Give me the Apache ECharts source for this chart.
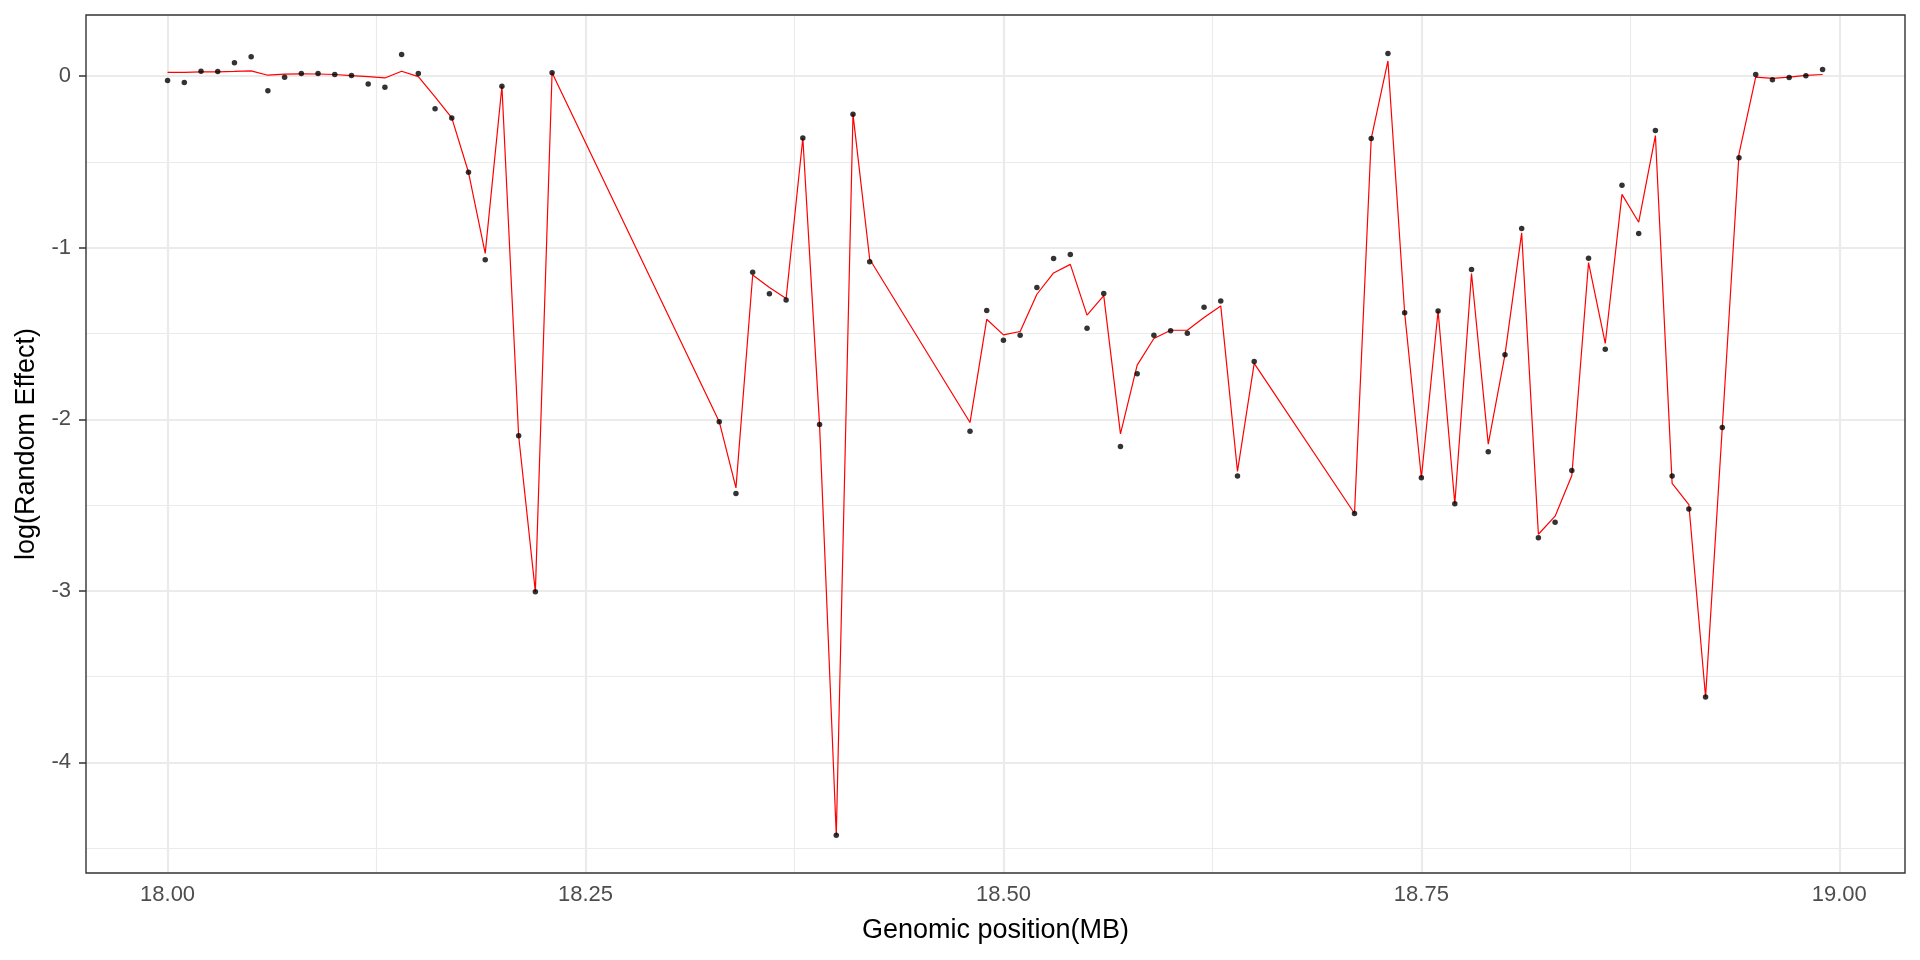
<!DOCTYPE html>
<html>
<head>
<meta charset="utf-8">
<script src="https://cdn.jsdelivr.net/npm/echarts@6/dist/echarts.min.js"></script>
<style>
html,body{margin:0;padding:0;background:#fff;}
#chart{width:1920px;height:960px;}
</style>
</head>
<body>
<div id="chart"></div>
<script>
// Genomic positions (MB)
const positions = [
  18.00,18.01,18.02,18.03,18.04,18.05,18.06,18.07,18.08,18.09,
  18.10,18.11,18.12,18.13,18.14,18.15,18.16,18.17,18.18,18.19,
  18.20,18.21,18.22,18.23,
  18.33,18.34,18.35,18.36,18.37,18.38,18.39,18.40,18.41,18.42,
  18.48,18.49,18.50,18.51,18.52,18.53,18.54,18.55,18.56,18.57,
  18.58,18.59,18.60,18.61,18.62,18.63,18.64,18.65,
  18.71,18.72,18.73,18.74,18.75,18.76,18.77,18.78,18.79,18.80,
  18.81,18.82,18.83,18.84,18.85,18.86,18.87,18.88,18.89,18.90,
  18.91,18.92,18.93,18.94,18.95,18.96,18.97,18.98,18.99
];
// observed log(random effect) – black points
const observed = [
  -0.025,-0.037,0.029,0.027,0.078,0.113,-0.084,-0.006,0.016,0.016,
  0.010,0.004,-0.045,-0.064,0.126,0.016,-0.189,-0.243,-0.560,-1.070,
  -0.058,-2.096,-3.006,0.020,
  -2.014,-2.433,-1.142,-1.268,-1.304,-0.360,-2.031,-4.425,-0.221,-1.081,
  -2.070,-1.366,-1.539,-1.510,-1.231,-1.062,-1.039,-1.469,-1.266,-2.159,
  -1.734,-1.510,-1.484,-1.498,-1.347,-1.310,-2.331,-1.663,
  -2.549,-0.363,0.132,-1.379,-2.341,-1.369,-2.492,-1.127,-2.189,-1.624,
  -0.888,-2.690,-2.600,-2.298,-1.061,-1.591,-0.636,-0.917,-0.316,-2.331,
  -2.523,-3.619,-2.048,-0.475,0.010,-0.020,-0.008,0.003,0.040
];
// fitted values – red line
const fitted = [
  0.023,0.023,0.025,0.026,0.028,0.031,0.006,0.012,0.014,0.013,
  0.010,0.004,-0.002,-0.010,0.029,-0.002,-0.120,-0.243,-0.560,-1.033,
  -0.058,-2.096,-3.006,0.020,
  -2.014,-2.400,-1.159,-1.232,-1.296,-0.360,-2.031,-4.425,-0.221,-1.067,
  -2.019,-1.417,-1.508,-1.488,-1.271,-1.147,-1.097,-1.393,-1.279,-2.085,
  -1.684,-1.529,-1.481,-1.481,-1.407,-1.339,-2.304,-1.674,
  -2.549,-0.363,0.089,-1.379,-2.341,-1.369,-2.492,-1.150,-2.145,-1.624,
  -0.913,-2.670,-2.565,-2.328,-1.086,-1.558,-0.689,-0.851,-0.346,-2.374,
  -2.497,-3.619,-2.048,-0.452,-0.005,-0.013,-0.005,0.005,0.010
];
const xTicks = [18.00,18.25,18.50,18.75,19.00];
const xMinor = [18.125,18.375,18.625,18.875];
const yTicks = [-4,-3,-2,-1,0];
const yMinor = [-4.5,-3.5,-2.5,-1.5,-0.5];

const chart = echarts.init(document.getElementById('chart'), null, {renderer:'canvas'});
const font = 'Liberation Sans, Arial, Helvetica, sans-serif';
const gridLines = [];
xMinor.forEach(v=>gridLines.push({xAxis:v, lineStyle:{color:'#EBEBEB',width:1.1,type:'solid'}}));
yMinor.forEach(v=>gridLines.push({yAxis:v, lineStyle:{color:'#EBEBEB',width:1.1,type:'solid'}}));
xTicks.forEach(v=>gridLines.push({xAxis:v, lineStyle:{color:'#EBEBEB',width:2.2,type:'solid'}}));
yTicks.forEach(v=>gridLines.push({yAxis:v, lineStyle:{color:'#EBEBEB',width:2.2,type:'solid'}}));

chart.setOption({
  animation:false,
  backgroundColor:'#ffffff',
  grid:{left:86,right:15,top:15,bottom:87,show:true,borderColor:'#333333',borderWidth:1.4,backgroundColor:'transparent',z:10},
  xAxis:{
    type:'value', min:17.9512, max:19.0393,
    name:'Genomic position(MB)', nameLocation:'middle', nameGap:44,
    nameTextStyle:{fontFamily:font,fontSize:27,color:'#000000'},
    axisLine:{show:false},
    axisTick:{show:true,customValues:xTicks,length:7,lineStyle:{color:'#333333',width:1.5}},
    axisLabel:{customValues:xTicks,margin:11,fontFamily:font,fontSize:22,color:'#4D4D4D',formatter:v=>v.toFixed(2)},
    splitLine:{show:false}
  },
  yAxis:{
    type:'value', min:-4.645, max:0.357,
    name:'log(Random Effect)', nameLocation:'middle', nameGap:46,
    nameTextStyle:{fontFamily:font,fontSize:27,color:'#000000'},
    axisLine:{show:false},
    axisTick:{show:true,customValues:yTicks,length:7,lineStyle:{color:'#333333',width:1.5}},
    axisLabel:{customValues:yTicks,margin:15,fontFamily:font,fontSize:22,color:'#4D4D4D',formatter:v=>String(v)},
    splitLine:{show:false}
  },
  series:[
    {type:'line',data:[],z:1,silent:true,
     markLine:{silent:true,z:1,precision:6,symbol:['none','none'],label:{show:false},animation:false,data:gridLines}},
    {type:'line',data:positions.map((x,i)=>[x,fitted[i]]),z:3,showSymbol:false,symbol:'none',
     lineStyle:{color:'#FF0000',width:1.2},silent:true},
    {type:'scatter',data:positions.map((x,i)=>[x,observed[i]]),z:4,symbol:'circle',symbolSize:5.5,
     itemStyle:{color:'#000000'},silent:true}
  ]
});
</script>
</body>
</html>
